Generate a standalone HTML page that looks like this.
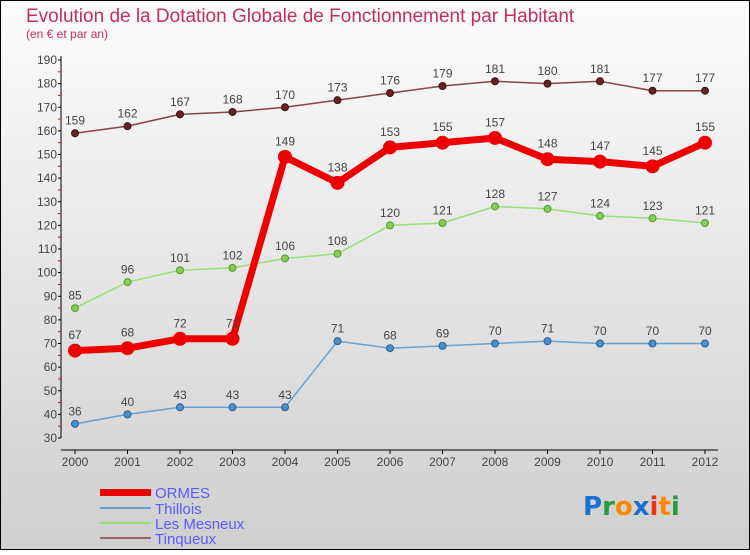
<!DOCTYPE html>
<html><head><meta charset="utf-8"><style>
body{margin:0;width:750px;height:550px;overflow:hidden;font-family:"Liberation Sans",sans-serif}
</style></head><body>
<svg id="c" width="750" height="550" xmlns="http://www.w3.org/2000/svg">
<defs><linearGradient id="bg" x1="0" y1="0" x2="0" y2="1"><stop offset="0" stop-color="#fcfcfc"/><stop offset="1" stop-color="#cfcfcf"/></linearGradient></defs>
<rect x="0.5" y="0.5" width="749" height="549" fill="url(#bg)" stroke="#000"/>
<text x="26" y="22" font-size="19" fill="#c0305a">Evolution de la Dotation Globale de Fonctionnement par Habitant</text>
<text x="26" y="38" font-size="12" fill="#c0305a">(en € et par an)</text>
<g id="plot"></g>
<g>
<rect x="100" y="489" width="51" height="7" fill="#e00"/>
<text x="155" y="498" font-size="15" fill="#5a5aff">ORMES</text>
<rect x="100" y="507" width="51" height="2" fill="#6aa0cc"/>
<text x="155" y="514" font-size="15" fill="#5a5aff">Thillois</text>
<rect x="100" y="522" width="51" height="2" fill="#99dd77"/>
<text x="155" y="529" font-size="15" fill="#5a5aff">Les Mesneux</text>
<rect x="100" y="537" width="51" height="2" fill="#996666"/>
<text x="155" y="544" font-size="15" fill="#5a5aff">Tinqueux</text>
</g>
<g font-size="26" font-family="'DejaVu Sans',sans-serif" font-weight="bold">
<text x="583" y="515"><tspan fill="#1a6fd0">P</tspan><tspan fill="#2a9a3a">r</tspan><tspan fill="#ff8800">o</tspan><tspan fill="#1a6fd0">x</tspan><tspan fill="#ee3311">i</tspan><tspan fill="#ff8800">t</tspan><tspan fill="#2a9a3a">i</tspan></text>
</g>
</svg>
<script>
const years=[2000,2001,2002,2003,2004,2005,2006,2007,2008,2009,2010,2011,2012];
const ormes=[67,68,72,72,149,138,153,155,157,148,147,145,155];
const thillois=[36,40,43,43,43,71,68,69,70,71,70,70,70];
const mesneux=[85,96,101,102,106,108,120,121,128,127,124,123,121];
const tinqueux=[159,162,167,168,170,173,176,179,181,180,181,177,177];
const yTicks=[30,40,50,60,70,80,90,100,110,120,130,140,150,160,170,180,190];
const NS="http://www.w3.org/2000/svg";
const g=document.getElementById('plot');
const x=i=>75+i*52.5;
const y=v=>60+(190-v)*378/160;
function el(t,a,p){const e=document.createElementNS(NS,t);for(const k in a)e.setAttribute(k,a[k]);(p||g).appendChild(e);return e;}
// axes
const ax=el('line',{x1:61,y1:56,x2:61,y2:438,stroke:'#000'});


const xa=el('line',{x1:61,y1:450,x2:718,y2:450,stroke:'#000'});


yTicks.forEach(v=>{
 el('line',{x1:58,x2:61,y1:y(v),y2:y(v),stroke:'#000'});
 if(v<190) el('line',{x1:58,x2:61,y1:y(v+5),y2:y(v+5),stroke:'#e00'});
 const t=el('text',{x:57,y:y(v)+4,'font-size':12,fill:'#444','text-anchor':'end'});
 t.textContent=v;
 
 
});
years.forEach((yr,i)=>{
 el('line',{x1:x(i),x2:x(i),y1:450,y2:454,stroke:'#000'});
 const t=el('text',{x:x(i),y:466,'font-size':12,fill:'#444','text-anchor':'middle'});
 t.textContent=yr;
 
 
});
function series(name,data,color,w,r,dot,stroke){
 const pts=data.map((v,i)=>x(i)+','+y(v)).join(' ');
 const p=el('polyline',{points:pts,fill:'none',stroke:color,'stroke-width':w,'stroke-linejoin':'round'});
 
 
 data.forEach((v,i)=>{
  const c=el('circle',{cx:x(i),cy:y(v),r:r,fill:dot,stroke:stroke,'stroke-width':1});
  
  
  const t=el('text',{x:x(i),y:y(v)-(r+5),'font-size':12,fill:'#444','text-anchor':'middle'});
  t.textContent=v;
  
  
 });
}
series('tinqueux',tinqueux,'#884444',1.5,3.5,'#662222','#441111');
series('les-mesneux',mesneux,'#99dd77',1.5,3.5,'#88cc55','#559933');
series('thillois',thillois,'#6aa0cc',1.5,3.5,'#4a90c8','#2a6090');
series('ormes',ormes,'#ee0000',7,6.5,'#ee0000','#ee0000');
</script>
</body></html>
